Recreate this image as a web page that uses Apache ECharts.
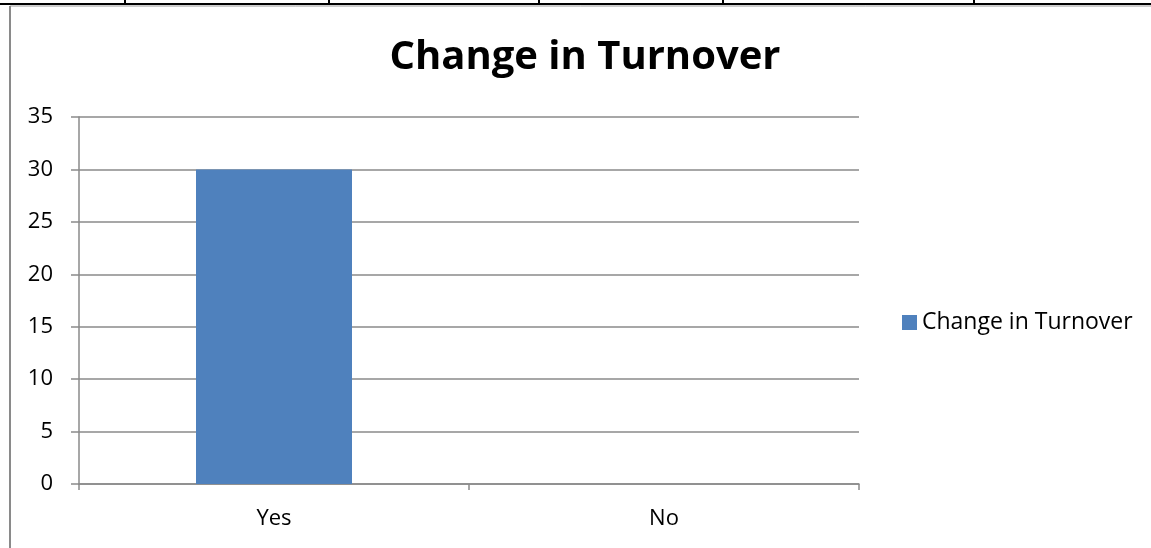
<!DOCTYPE html>
<html>
<head>
<meta charset="utf-8">
<script src="https://cdn.jsdelivr.net/npm/echarts@6/dist/echarts.min.js"></script>
<style>
  html, body { margin: 0; padding: 0; background: #ffffff; }
  #chart { width: 1151px; height: 548px; }
</style>
</head>
<body>
<div id="chart"></div>
<script>
// Survey answers and counts
const categories = ['Yes', 'No'];
const turnoverCounts = [30, 0];
const seriesName = 'Change in Turnover';
const yTicks = { min: 0, max: 35, interval: 5 };

const axisGray = '#8a8a8a';
const chart = echarts.init(document.getElementById('chart'));

// Cell borders of the surrounding document table
const tableCols = [125, 329, 539, 723, 974];
const tableGraphics = [
  { type: 'line', shape: { x1: 0, y1: 4, x2: 1151, y2: 4 }, style: { stroke: '#000', lineWidth: 2 }, silent: true },
  { type: 'line', shape: { x1: 10, y1: 6, x2: 1151, y2: 6 }, style: { stroke: '#9a9a9a', lineWidth: 1 }, silent: true },
  { type: 'line', shape: { x1: 10, y1: 6, x2: 10, y2: 548 }, style: { stroke: '#8a8a8a', lineWidth: 2 }, silent: true }
].concat(tableCols.map(x => ({
  type: 'line', shape: { x1: x, y1: 0, x2: x, y2: 4 }, style: { stroke: '#000', lineWidth: 2 }, silent: true
})));

chart.setOption({
  animation: false,
  textStyle: { fontFamily: 'Open Sans' },
  title: {
    text: 'Change in Turnover',
    left: 580, top: 33, textAlign: 'center',
    textStyle: { fontFamily: 'Open Sans', fontWeight: 'bold', fontSize: 40, color: '#000' }
  },
  legend: {
    data: [seriesName],
    left: 897, top: 306,
    icon: 'rect', itemWidth: 15, itemHeight: 15, itemGap: 8,
    textStyle: { fontFamily: 'Open Sans', fontSize: 23, color: '#000' }
  },
  grid: { left: 79, right: 292, top: 117, bottom: 64, containLabel: false },
  xAxis: {
    type: 'category',
    data: categories,
    boundaryGap: true,
    axisLine: { lineStyle: { color: axisGray, width: 1.5 } },
    axisTick: { show: true, length: 6, alignWithLabel: false, lineStyle: { color: axisGray, width: 1.5 } },
    axisLabel: { fontFamily: 'Open Sans', fontSize: 22, color: '#000', margin: 24 }
  },
  yAxis: {
    type: 'value',
    min: yTicks.min, max: yTicks.max, interval: yTicks.interval,
    axisLine: { show: true, lineStyle: { color: axisGray, width: 1.5 } },
    axisTick: { show: true, length: 8, lineStyle: { color: axisGray, width: 1.5 } },
    splitLine: { lineStyle: { color: axisGray, width: 1.5 } },
    axisLabel: { fontFamily: 'Open Sans', fontSize: 22, color: '#000', margin: 26 }
  },
  series: [{
    name: seriesName,
    type: 'bar',
    data: turnoverCounts,
    barWidth: '40%',
    itemStyle: { color: '#4f81bd' }
  }],
  graphic: tableGraphics
});
</script>
</body>
</html>
